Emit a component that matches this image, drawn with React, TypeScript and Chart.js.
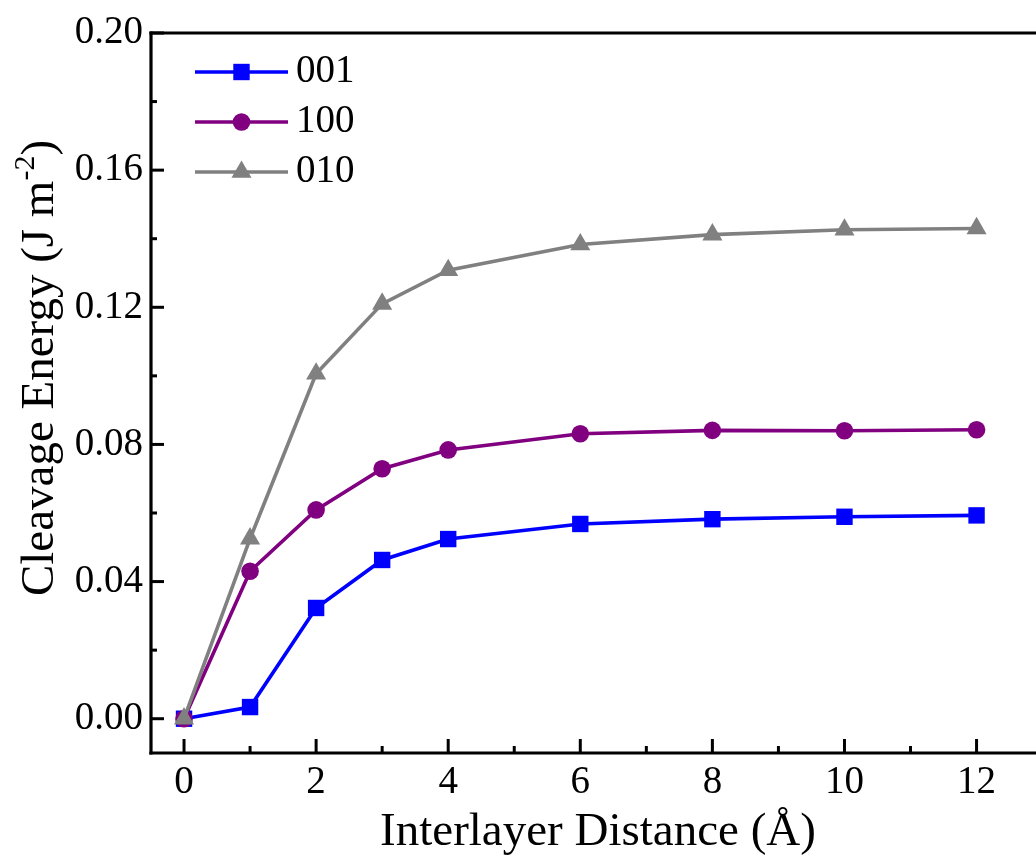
import React, { useEffect, useRef } from 'react';
import { Chart, registerables } from 'chart.js';

Chart.register(...registerables);

// ---- data ----
const distances = [0, 1, 2, 3, 4, 6, 8, 10, 12];
const energy001 = [0, 0.0034, 0.0323, 0.0463, 0.0524, 0.0568, 0.0582, 0.0589, 0.0593];
const energy100 = [0, 0.043, 0.0609, 0.0729, 0.0784, 0.0831, 0.0841, 0.084, 0.0843];
const energy010 = [0, 0.0525, 0.1006, 0.121, 0.1308, 0.1383, 0.1412, 0.1426, 0.143];
const seriesLabels = ['001', '100', '010'];
const seriesColors = ['#0000FF', '#800080', '#808080'];
const seriesPointStyles = ['rect', 'circle', 'triangle'];
const seriesPointRadius = [11.6, 8.8, 11.6];

const xMajorTicks = [0, 2, 4, 6, 8, 10, 12];
const xMinorTicks = [1, 3, 5, 7, 9, 11];
const yMajorTicks = [0, 0.04, 0.08, 0.12, 0.16, 0.2];
const yMinorTicks = [0.02, 0.06, 0.1, 0.14, 0.18];

const xAxisTitle = 'Interlayer Distance (\u00C5)';
const yAxisTitleMain = 'Cleavage Energy (J m';
const yAxisTitleSup = '-2';
const yAxisTitleEnd = ')';

const SERIF = '"Liberation Serif", "Times New Roman", serif';

function drawMarker(ctx: CanvasRenderingContext2D, style: string, x: number, y: number, r: number) {
  ctx.beginPath();
  if (style === 'rect') {
    const s = Math.SQRT1_2 * r;
    ctx.rect(x - s, y - s, 2 * s, 2 * s);
  } else if (style === 'circle') {
    ctx.arc(x, y, r, 0, Math.PI * 2);
  } else {
    const a = (2 * Math.PI) / 3;
    ctx.moveTo(x, y - r);
    ctx.lineTo(x + Math.sin(a) * r, y - Math.cos(a) * r);
    ctx.lineTo(x + Math.sin(2 * a) * r, y - Math.cos(2 * a) * r);
    ctx.closePath();
  }
  ctx.fill();
}

const framePlugin = {
  id: 'frame',
  afterDraw(chart: any) {
    const { ctx, chartArea: ca, scales } = chart;
    const xs = scales.x;
    const ys = scales.y;
    ctx.save();
    ctx.strokeStyle = '#000';
    ctx.lineWidth = 3.2;
    ctx.lineCap = 'butt';
    const seg = (x1: number, y1: number, x2: number, y2: number) => {
      ctx.beginPath();
      ctx.moveTo(x1, y1);
      ctx.lineTo(x2, y2);
      ctx.stroke();
    };
    // frame (left, bottom, top)
    seg(ca.left, ca.top - 1.6, ca.left, ca.bottom + 1.6);
    seg(ca.left - 1.6, ca.bottom, ca.right, ca.bottom);
    seg(ca.left - 1.6, ca.top, ca.right, ca.top);
    // inward ticks
    ctx.lineWidth = 3;
    yMajorTicks.forEach((v) => {
      const p = ys.getPixelForValue(v);
      seg(ca.left, p, ca.left + 13, p);
    });
    yMinorTicks.forEach((v) => {
      const p = ys.getPixelForValue(v);
      seg(ca.left, p, ca.left + 6, p);
    });
    xMajorTicks.forEach((v) => {
      const p = xs.getPixelForValue(v);
      seg(p, ca.bottom, p, ca.bottom - 14);
    });
    xMinorTicks.forEach((v) => {
      const p = xs.getPixelForValue(v);
      seg(p, ca.bottom, p, ca.bottom - 7);
    });

    // legend
    chart.data.datasets.forEach((ds: any, i: number) => {
      const ly = 72 + 50 * i;
      ctx.strokeStyle = ds.borderColor;
      ctx.lineWidth = ds.borderWidth;
      seg(195, ly, 288, ly);
      ctx.fillStyle = ds.backgroundColor;
      drawMarker(ctx, ds.pointStyle, 241.5, ly, ds.pointRadius);
      ctx.fillStyle = '#000';
      ctx.font = `39px ${SERIF}`;
      ctx.textAlign = 'left';
      ctx.textBaseline = 'middle';
      ctx.fillText(ds.label, 296, ly);
    });

    // x axis title
    ctx.fillStyle = '#000';
    ctx.font = `47px ${SERIF}`;
    ctx.textAlign = 'center';
    ctx.textBaseline = 'alphabetic';
    ctx.fillText(xAxisTitle, 598, 845);

    // y axis title with superscript
    ctx.save();
    ctx.translate(53, 368);
    ctx.rotate(-Math.PI / 2);
    ctx.textAlign = 'left';
    ctx.font = `47px ${SERIF}`;
    const w1 = ctx.measureText(yAxisTitleMain).width;
    const w3 = ctx.measureText(yAxisTitleEnd).width;
    ctx.font = `30px ${SERIF}`;
    const w2 = ctx.measureText(yAxisTitleSup).width;
    let x0 = -(w1 + w2 + w3) / 2;
    ctx.font = `47px ${SERIF}`;
    ctx.fillText(yAxisTitleMain, x0, 0);
    x0 += w1;
    ctx.font = `30px ${SERIF}`;
    ctx.fillText(yAxisTitleSup, x0, -19);
    x0 += w2;
    ctx.font = `47px ${SERIF}`;
    ctx.fillText(yAxisTitleEnd, x0, 0);
    ctx.restore();

    ctx.restore();
  },
};

export default function App() {
  const canvasRef = useRef<HTMLCanvasElement | null>(null);

  useEffect(() => {
    if (!canvasRef.current) return;
    const seriesValues = [energy001, energy100, energy010];
    const datasets = seriesLabels.map((label, i) => ({
      label,
      data: distances.map((d, j) => ({ x: d, y: seriesValues[i][j] })),
      borderColor: seriesColors[i],
      backgroundColor: seriesColors[i],
      borderWidth: 3.6,
      pointStyle: seriesPointStyles[i],
      pointRadius: seriesPointRadius[i],
      pointBorderWidth: 0,
      pointBackgroundColor: seriesColors[i],
      tension: 0,
      order: 3 - i,
    }));

    const chart = new Chart(canvasRef.current, {
      type: 'line',
      data: { datasets },
      options: {
        animation: false,
        responsive: false,
        devicePixelRatio: 1,
        layout: { autoPadding: false, padding: { top: 33, left: 0, right: 0, bottom: 0 } },
        plugins: {
          legend: { display: false },
          tooltip: { enabled: false },
          title: { display: false },
        },
        scales: {
          x: {
            type: 'linear',
            min: -0.5,
            max: 12.9,
            grid: { display: false, drawTicks: false },
            border: { display: false },
            afterBuildTicks: (s: any) => {
              s.ticks = xMajorTicks.map((v) => ({ value: v }));
            },
            afterFit: (s: any) => {
              s.height = 104;
              s.paddingLeft = 0;
              s.paddingRight = 0;
            },
            ticks: {
              color: '#000',
              font: { family: SERIF, size: 39 },
              padding: 6,
              maxRotation: 0,
              autoSkip: false,
              callback: (v: any) => String(v),
            },
          },
          y: {
            type: 'linear',
            min: -0.01,
            max: 0.2,
            grid: { display: false, drawTicks: false },
            border: { display: false },
            afterBuildTicks: (s: any) => {
              s.ticks = yMajorTicks.map((v) => ({ value: v }));
            },
            afterFit: (s: any) => {
              s.width = 151;
              s.paddingTop = 0;
              s.paddingBottom = 0;
            },
            ticks: {
              color: '#000',
              font: { family: SERIF, size: 39 },
              padding: 8,
              autoSkip: false,
              callback: (v: any) => Number(v).toFixed(2),
            },
          },
        },
      } as any,
      plugins: [framePlugin],
    });

    return () => chart.destroy();
  }, []);

  return (
    <div style={{ position: 'absolute', left: 0, top: 0, width: 1036, height: 857, background: '#fff' }}>
      <canvas ref={canvasRef} width={1036} height={857} style={{ display: 'block' }} />
    </div>
  );
}
